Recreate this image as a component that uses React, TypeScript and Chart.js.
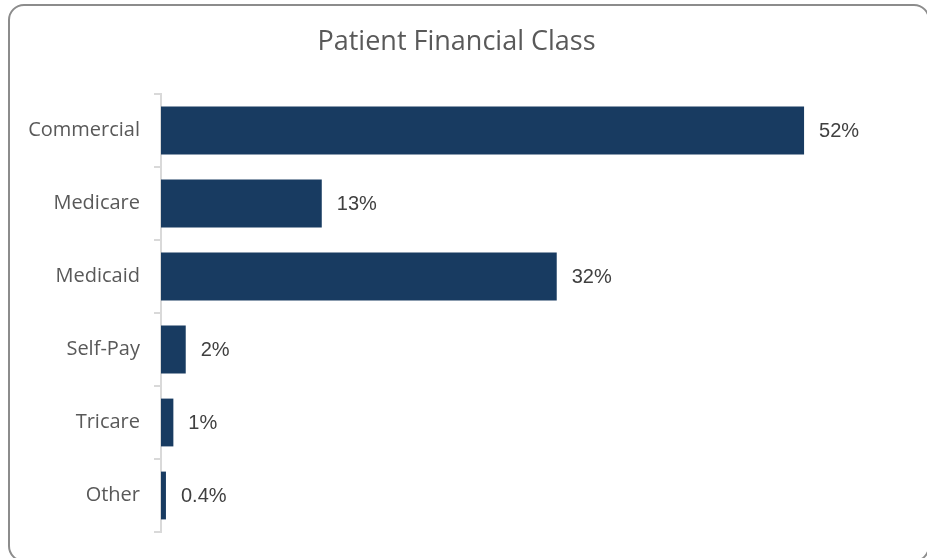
import React, { useEffect, useRef } from "react";
import { Chart, registerables } from "chart.js";

Chart.register(...registerables);

const categories = ["Commercial", "Medicare", "Medicaid", "Self-Pay", "Tricare", "Other"];
const values = [52, 13, 32, 2, 1, 0.4];
const valueLabels = ["52%", "13%", "32%", "2%", "1%", "0.4%"];
const title = "Patient Financial Class";

const barLabelPlugin = {
  id: "barLabels",
  afterDatasetsDraw(chart: any) {
    const ctx = chart.ctx;
    const meta = chart.getDatasetMeta(0);
    ctx.save();
    ctx.font = "20px 'Liberation Sans', Arial, sans-serif";
    ctx.fillStyle = "#404040";
    ctx.textAlign = "left";
    ctx.textBaseline = "middle";
    meta.data.forEach((el: any, i: number) => {
      ctx.fillText(valueLabels[i], el.x + 15, el.y + 1);
    });
    ctx.restore();
  },
};

export default function App() {
  const ref = useRef<HTMLCanvasElement>(null);
  useEffect(() => {
    if (!ref.current) return;
    const chart = new Chart(ref.current, {
      type: "bar",
      data: {
        labels: categories,
        datasets: [
          {
            data: values,
            backgroundColor: "#183B61",
            borderWidth: 0,
            categoryPercentage: 1,
            barPercentage: 0.655,
          },
        ],
      },
      options: {
        indexAxis: "y",
        responsive: false,
        animation: false,
        layout: { padding: { left: 10, right: 24, top: 0, bottom: 25 } },
        plugins: {
          legend: { display: false },
          tooltip: { enabled: false },
          title: {
            display: true,
            text: title,
            color: "#595959",
            font: { family: "'Open Sans', sans-serif", size: 27, weight: "normal" },
            padding: { top: 26, bottom: 35.6 },
          },
        },
        scales: {
          x: {
            display: false,
            min: 0,
            max: 60,
          },
          y: {
            afterFit(scale: any) {
              scale.width = 151;
            },
            border: { display: true, color: "#d9d9d9", width: 2 },
            grid: {
              offset: true,
              drawOnChartArea: false,
              drawTicks: true,
              tickLength: 7,
              color: "#d9d9d9",
              lineWidth: 2,
            },
            ticks: {
              color: "#595959",
              padding: 14,
              font: { family: "'Open Sans', sans-serif", size: 20 },
            },
          },
        },
      },
      plugins: [barLabelPlugin],
    });
    return () => chart.destroy();
  }, []);

  return (
    <div style={{ position: "fixed", left: 0, top: 0, width: 927, height: 558, overflow: "hidden", background: "#fff" }}>
      <div
        style={{
          position: "absolute",
          left: 8,
          top: 4,
          width: 922,
          height: 558,
          border: "2px solid #8c8c8c",
          borderRadius: 16,
          boxSizing: "border-box",
        }}
      />
      <canvas ref={ref} width={927} height={558} style={{ position: "absolute", left: 0, top: 0 }} />
    </div>
  );
}
